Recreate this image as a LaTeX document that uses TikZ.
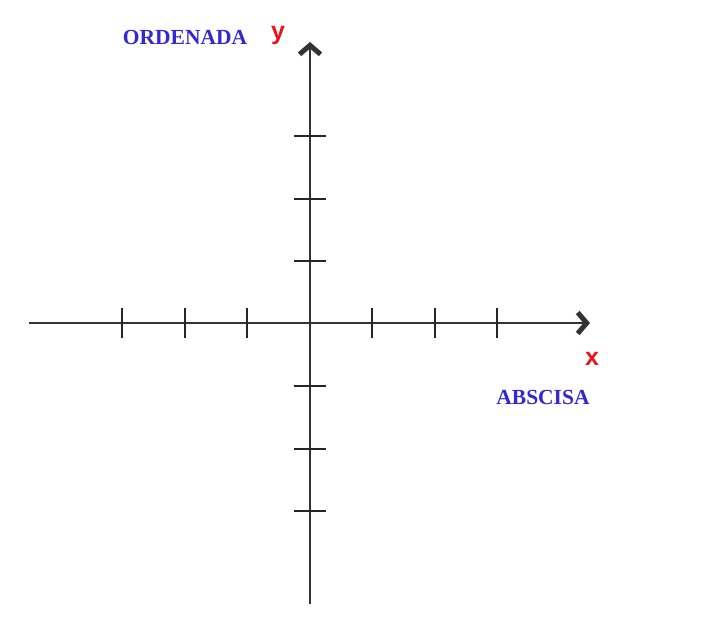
\documentclass[tikz,border=0pt]{standalone}
\usepackage{fontspec}
\setmainfont{Liberation Serif}
\newfontfamily\lsans{Liberation Sans}
\usetikzlibrary{arrows.meta,calc}
\definecolor{lblue}{RGB}{51,40,210}
\definecolor{lred}{RGB}{230,20,30}
\begin{document}
\begin{tikzpicture}[x=1pt,y=-1pt,
  axis/.style={line width=1.8pt,draw=black!80},
  tickmark/.style={line width=2pt,draw=black!85},
  tip/.style={-{Straight Barb[length=9pt,width=21pt,line width=5pt]}},
  axname/.style={font=\bfseries\fontsize{21.5}{24}\selectfont,text=lblue,inner sep=0pt},
  varname/.style={font=\lsans\bfseries\fontsize{25}{27}\selectfont,text=lred,inner sep=0pt}]
\useasboundingbox (0,0) rectangle (706,627);
\coordinate (O) at (310,323);
\coordinate (xs) at (29,323);
\coordinate (xe) at (590,323);
\coordinate (ys) at (310,604);
\coordinate (ye) at (310,42);
\draw[axis] (xs) -- (O);
\draw[axis,tip] (O) -- (xe);
\draw[axis] (ys) -- (O);
\draw[axis,tip] (O) -- (ye);
\foreach \xx in {122,185,247,372,435,497}{
  \draw[tickmark] (\xx,308) -- (\xx,338);
}
\foreach \yy in {136,199,261,386,449,511}{
  \draw[tickmark] (294,\yy) -- (326,\yy);
}
\node[axname] (ord) at (185,37) {ORDENADA};
\node[axname] (abs) at (543,397) {ABSCISA};
\node[varname] (ylab) at (278,35) {y};
\node[varname] (xlab) at (592,359) {x};
\end{tikzpicture}
\end{document}
